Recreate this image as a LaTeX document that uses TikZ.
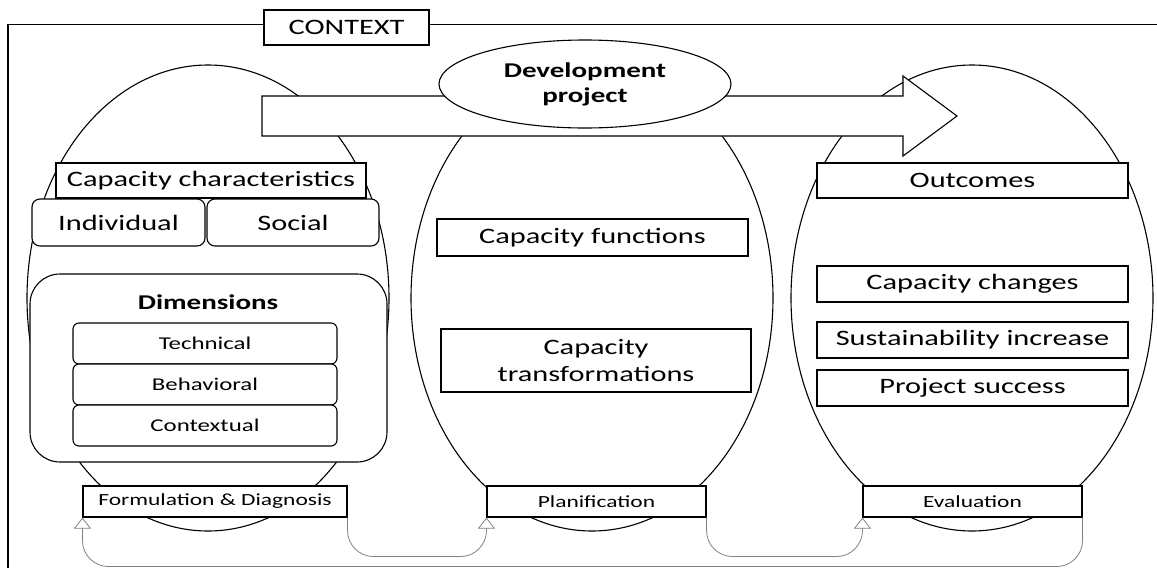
\documentclass[tikz,border=0pt]{standalone}
\usepackage{fontspec}
\setmainfont{Carlito}[FakeStretch=1.38]
\usetikzlibrary{shapes.geometric,arrows.meta}

\begin{document}
\begin{tikzpicture}[x=1pt,y=-1pt,line width=1.1pt,
  phase/.style={draw,ellipse,minimum width=362pt,minimum height=466pt,inner sep=0pt},
  box/.style={draw,fill=white,inner sep=0pt,align=center,font=\fontsize{22}{27}\selectfont},
  rbox/.style={box,rounded corners=8pt,minimum height=47pt},
  dimbox/.style={box,rounded corners=6pt,minimum width=264pt,minimum height=41pt,font=\fontsize{18}{22}\selectfont},
  stage/.style={box,minimum height=31pt,font=\fontsize{17}{20}\selectfont},
  loop/.style={draw=gray,line width=0.8pt,rounded corners=26pt,-{Triangle[open,length=11pt,width=17pt]}}]
\useasboundingbox (0,0) rectangle (1157,568);

% the three phases behind everything
\node[phase] (diagph) at (208,298) {};
\node[phase] (planph) at (592,298) {};
\node[phase] (evalph) at (972,298) {};

% first phase: characteristics and dimensions
\node[box,minimum width=310pt,minimum height=35pt] (capchar) at (211,180.5) {Capacity characteristics};
\node[rbox,minimum width=173pt] (indiv) at (118.5,222.5) {Individual};
\node[rbox,minimum width=172pt] (social) at (293,222.5) {Social};
\node[box,rounded corners=30pt,minimum width=357pt,minimum height=188pt] (dims) at (208.5,368) {};
\node[font=\bfseries\fontsize{21}{25}\selectfont] (dimlabel) at (208,302) {Dimensions};
\node[dimbox] (technical) at (205,343.5) {Technical};
\node[dimbox] (behavioral) at (205,384.5) {Behavioral};
\node[dimbox] (contextual) at (205,425.5) {Contextual};

% second phase
\node[box,minimum width=311pt,minimum height=37pt] (capfun) at (592.5,237.5) {Capacity functions};
\node[box,minimum width=310pt,minimum height=63pt] (captrans) at (596,360.5) {Capacity\\transformations};

% third phase
\node[box,minimum width=311pt,minimum height=35pt] (outcomes) at (972.5,180.5) {Outcomes};
\node[box,minimum width=311pt,minimum height=36pt] (capchg) at (972.5,284) {Capacity changes};
\node[box,minimum width=311pt,minimum height=36pt] (sustain) at (972.5,340) {Sustainability increase};
\node[box,minimum width=311pt,minimum height=36pt] (success) at (972.5,388) {Project success};

% project arrow across the phases
\draw[fill=white] (262,96) -- (903,96) -- (903,76) -- (957,116) -- (903,156) -- (903,136) -- (262,136) -- cycle;
\node[draw,ellipse,fill=white,inner sep=0pt,minimum width=292pt,minimum height=88pt,align=center,
  font=\bfseries\fontsize{21}{25}\selectfont] (devproj) at (585,84) {Development\\project};

% stages of the cycle
\node[stage,minimum width=264pt] (form) at (215,501.5) {Formulation \& Diagnosis};
\node[stage,minimum width=219pt] (plan) at (596.5,501.5) {Planification};
\node[stage,minimum width=219pt] (eval) at (972.5,501.5) {Evaluation};

\draw[loop] (form.south east) -- ++(0,39) -| (plan.south west);
\draw[loop] (plan.south east) -- ++(0,39) -| (eval.south west);
\draw[loop] (eval.south east) -- ++(0,49) -| (form.south west);

% context frame
\draw[line width=1pt] (8,24) -- (1157,24);
\draw[line width=2.2pt] (8,23.5) -- (8,568);
\node[box,minimum width=165pt,minimum height=35pt] (context) at (346.5,27.5) {CONTEXT};
\end{tikzpicture}
\end{document}
